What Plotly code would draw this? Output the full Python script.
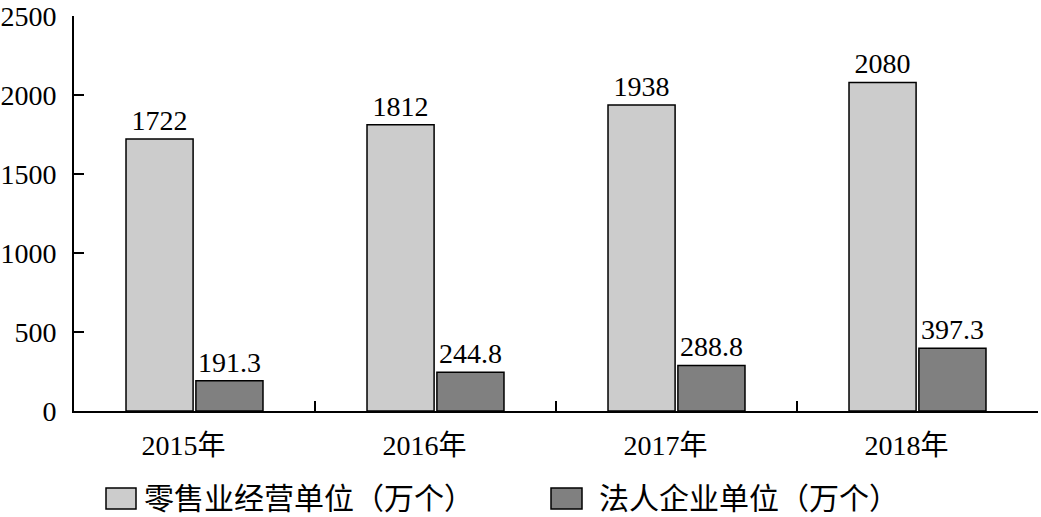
import plotly.graph_objects as go

categories = ["2015年", "2016年", "2017年", "2018年"]
retail_units = [1722, 1812, 1938, 2080]
corp_units = [191.3, 244.8, 288.8, 397.3]
retail_labels = ["1722", "1812", "1938", "2080"]
corp_labels = ["191.3", "244.8", "288.8", "397.3"]
series_names = ["零售业经营单位（万个）", "法人企业单位（万个）"]
y_ticks = [0, 500, 1000, 1500, 2000, 2500]

W, H = 1041, 517
L, R, T, B = 74, 3, 16, 106
pw, ph = W - L - R, H - T - B

FONT = "Liberation Serif, Times New Roman, Noto Sans CJK SC"
light, dark = "#cccccc", "#808080"

fig = go.Figure()
for vals, labs, col in [(retail_units, retail_labels, light), (corp_units, corp_labels, dark)]:
    fig.add_trace(go.Bar(
        x=categories, y=vals, text=labs, textposition="outside",
        constraintext="none", cliponaxis=False,
        textfont=dict(family=FONT, size=28, color="black"),
        marker=dict(color=col, line=dict(color="black", width=1.5)),
        showlegend=False,
    ))

def px_x(p):
    return (p - L) / pw

def px_y(p):
    return (H - B - p) / ph

shapes = []
annotations = []
legend_items = [(106, 136, 142, light, series_names[0]), (551, 582, 597, dark, series_names[1])]
for x0, x1, tx, col, name in legend_items:
    shapes.append(dict(type="rect", xref="paper", yref="paper",
                       x0=px_x(x0), x1=px_x(x1), y0=px_y(509), y1=px_y(488),
                       fillcolor=col, line=dict(color="black", width=1.5)))
    annotations.append(dict(xref="paper", yref="paper", x=px_x(tx), y=px_y(498),
                            xanchor="left", yanchor="middle", showarrow=False,
                            text=name, font=dict(family=FONT, size=30, color="black")))

fig.update_layout(
    width=W, height=H,
    margin=dict(l=L, r=R, t=T, b=B, autoexpand=False),
    plot_bgcolor="white", paper_bgcolor="white",
    barmode="group", bargap=0.42, bargroupgap=0.04,
    shapes=shapes, annotations=annotations,
    font=dict(family=FONT, size=28, color="black"),
    xaxis=dict(showline=True, linecolor="black", linewidth=2, automargin=False,
               ticks="inside", tickson="boundaries", ticklen=10, tickwidth=2, tickcolor="black",
               tickfont=dict(family=FONT, size=28, color="black"),
               ticklabelshift=-11, ticklabelstandoff=8,
               showgrid=False, zeroline=False),
    yaxis=dict(range=[0, 2501], tickvals=y_ticks, showline=True, linecolor="black", linewidth=2,
               automargin=False, ticklabeloverflow="allow",
               ticks="inside", ticklen=10, tickwidth=2, tickcolor="black",
               tickfont=dict(family=FONT, size=28, color="black"),
               ticklabelstandoff=10,
               showgrid=False, zeroline=False),
)

fig.write_html("out.html", config={"displayModeBar": False},
               post_script="document.body.style.margin='0';document.body.style.overflow='hidden';")
